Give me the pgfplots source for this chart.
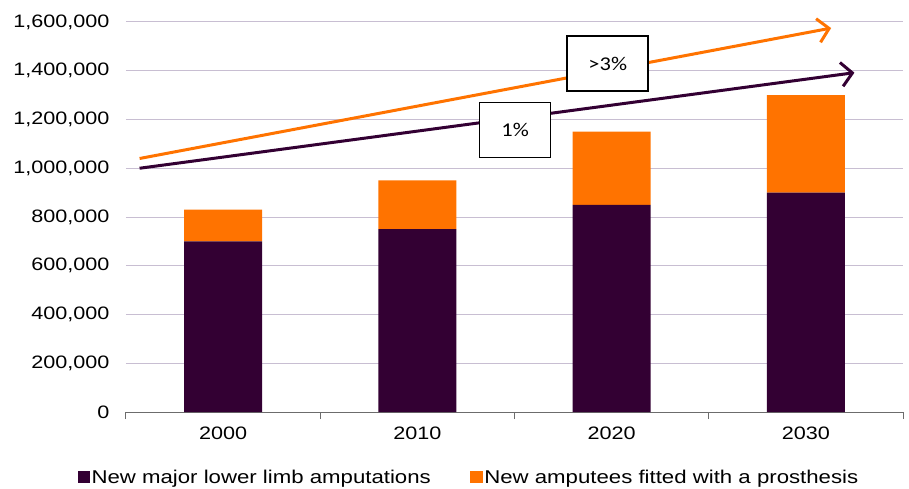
\documentclass[border=0pt]{standalone}
\usepackage{fontspec}
\setmainfont[FakeStretch=1.2]{Liberation Sans}
\newfontfamily\boxfont[FakeStretch=1.15]{Carlito}
\usepackage{pgfplots}
\pgfplotsset{compat=1.18}
\usetikzlibrary{arrows.meta}
\definecolor{dk}{HTML}{330033}
\definecolor{org}{HTML}{FF7300}
\definecolor{grd}{HTML}{C8BED2}
\pgfplotstableread{
x base fitted
0 700000 130000
1 750000 200000
2 850000 300000
3 900000 400000
}\bars
\begin{document}
\begin{tikzpicture}
\pgfplotsset{every axis/.append style={scale only axis, width=777pt, height=390pt,
  xmin=-0.5, xmax=3.5, ymin=0, ymax=1600000}}
\begin{axis}[
  ybar stacked, bar width=78pt,
  axis lines*=left,
  y axis line style={draw=none},
  x axis line style={draw=gray!85!black, line width=1pt},
  ymajorgrids, grid style={grd, line width=1pt},
  ytick={0,200000,...,1600000},
  ytick style={draw=none},
  scaled y ticks=false,
  yticklabel={\pgfmathprintnumber[fixed, precision=0, 1000 sep={,}, assume math mode=true]{\tick}},
  tick label style={font=\fontsize{18}{21}\selectfont},
  yticklabel style={xshift=-13pt},
  xtick={0,1,2,3}, xticklabels={2000,2010,2020,2030},
  xtick style={draw=none},
  xticklabel style={yshift=-11pt},
  extra x ticks={-0.5,0.5,1.5,2.5,3.5}, extra x tick labels={},
  extra x tick style={grid=none, xtick style={draw=gray!85!black, line width=1pt}, major tick length=7pt, tick align=outside},
  legend columns=2,
  legend style={at={(0.441,-0.169)}, anchor=center, draw=none, fill=none,
    font=\fontsize{18.5}{21}\selectfont, inner sep=0pt,
    /tikz/every even column/.append style={column sep=38pt},
    nodes={inner sep=1.5pt}},
  legend image code/.code={\fill[#1,draw=none] (0pt,-5.5pt) rectangle (12.5pt,6.5pt);},
]
\addplot[fill=dk, draw=none] table[x=x, y=base] {\bars};
\addlegendentry{New major lower limb amputations}
\addplot[fill=org, draw=none] table[x=x, y=fitted] {\bars};
\addlegendentry{New amputees fitted with a prosthesis}
\end{axis}
\begin{axis}[hide axis, clip=false]
\addplot[org, line width=3pt, -{Straight Barb[length=11pt, width=24pt, line width=3pt]}] coordinates {(-0.43,1040000) (3.13,1575000)};
\addplot[dk, line width=3pt, -{Straight Barb[length=11pt, width=24pt, line width=3pt]}] coordinates {(-0.43,1000000) (3.25,1392000)};
\coordinate (b1) at (axis cs:1.98,1429700);
\coordinate (b2) at (axis cs:1.503,1156900);
\coordinate (ll) at (rel axis cs:0,0);
\end{axis}
\node[draw=black, fill=white, line width=1.5pt, minimum width=81pt, minimum height=55pt, font=\boxfont\fontsize{19.5}{22}\selectfont] at (b1) {>3\%};
\node[draw=black, fill=white, line width=1.5pt, minimum width=71pt, minimum height=55pt, font=\boxfont\fontsize{19.5}{22}\selectfont] at (b2) {1\%};
\pgfresetboundingbox
\path (ll) ++(-126pt,-76pt) rectangle ++(909pt,488pt);
\end{tikzpicture}
\end{document}
